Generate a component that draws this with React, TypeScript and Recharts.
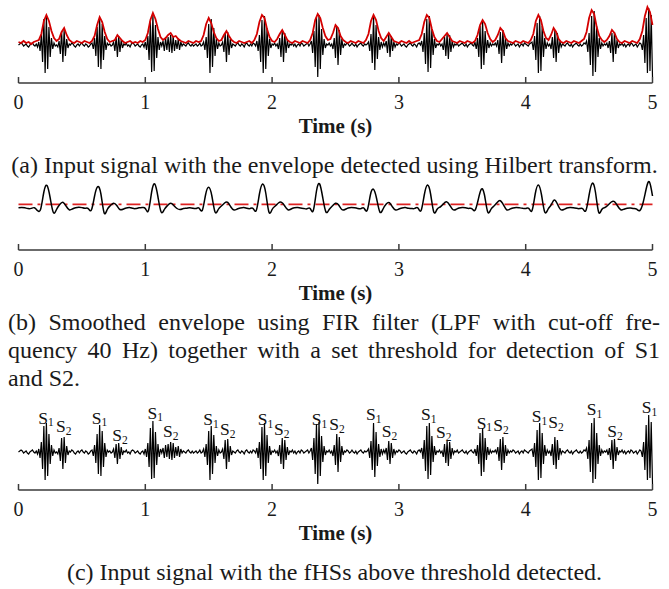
import React from 'react';
import { LineChart, ComposedChart, Line, Scatter, XAxis, YAxis, ReferenceLine } from 'recharts';

// ---- data (arbitrary amplitude units) ----
const inputRate = 100; // samples per second
const inputSignal = [
  0, 1, 2, 1, -1, 0, 1, -1, -2, 0,
  1, 2, 0, -1, 1, -2, 3, -6, 10, -17,
  26, -28, 29, -24, 18, -12, 7, -4, 2, -1,
  0, -2, 4, -9, 14, -17, 15, -11, 6, -3,
  1, 0, 2, 1, -1, -2, 0, 1, -1, 1,
  2, 0, -1, 1, 0, -2, -1, 1, 2, -4,
  7, -11, 18, -22, 27, -24, 21, -15, 9, -5,
  2, 0, 1, -1, 0, 3, -6, 8, -12, 9,
  -7, 5, -3, 1, 0, 2, -1, 0, -2, 1,
  2, 1, -1, 0, 1, -1, -2, 0, 1, -2,
  3, -5, 9, -15, 24, -27, 31, -26, 20, -13,
  8, -5, 3, -1, 4, -6, 7, -5, 8, -7,
  10, -8, 9, -6, 5, -4, 6, -5, 3, -1,
  1, 0, -1, 1, 2, 0, -1, 1, -1, 0,
  1, -1, 0, 2, -1, 0, 3, -5, 8, -13,
  21, -28, 26, -22, 17, -11, 6, -4, 2, -1,
  0, 3, -7, 12, -17, 13, -10, 6, -3, 1,
  0, -1, 1, 2, 0, -1, 1, 0, -2, 1,
  2, 0, -1, 1, -1, 2, 1, -1, 4, -6,
  10, -17, 25, -28, 29, -24, 17, -11, 6, -3,
  1, 0, 2, -1, 1, -4, 7, -12, 14, -17,
  12, -8, 5, -3, 1, 0, 2, -1, 1, -2,
  0, 1, -1, 2, 1, -1, 0, 1, 2, -1,
  1, 4, -8, 14, -22, 28, -32, 30, -24, 16,
  -10, 6, -3, 1, 0, 2, -1, 1, -4, 7,
  -13, 18, -20, 15, -10, 6, -3, 1, 0, 2,
  1, -1, 0, 2, 0, -1, 1, -2, 0, 1,
  2, 0, -1, 1, 0, 1, 3, -6, 11, -18,
  29, -25, 20, -14, 8, -5, 3, -2, 2, -1,
  4, -8, 11, -12, 9, -6, 3, -2, 1, 0,
  2, 1, -1, 0, 1, -1, -2, 0, 1, 2,
  0, -1, 1, 0, -2, 1, 2, 0, 4, -7,
  12, -19, 26, -27, 29, -23, 16, -10, 6, -3,
  1, 0, 2, -1, 1, -5, 8, -11, 11, -14,
  10, -7, 4, -2, 1, 0, 2, -1, 0, 1,
  2, 0, -1, 1, -2, 0, 1, 2, 0, -1,
  3, -4, 7, -12, 19, -24, 24, -20, 14, -8,
  5, -3, 2, -1, 1, 0, 2, -1, 5, -9,
  13, -18, 15, -11, 7, -4, 2, -1, 1, 0,
  2, 1, -1, 0, 1, -2, 0, 1, -1, 2,
  1, 0, -1, 1, 2, 3, -5, 9, -15, 22,
  -28, 29, -26, 19, -12, 7, -4, 2, -1, 1,
  -4, 8, -13, 15, -17, 12, -8, 4, -2, 1,
  0, -1, 1, 2, 0, -1, 1, -2, 0, 1,
  2, 0, -1, 1, -1, 0, 2, 1, 4, -7,
  12, -20, 29, -31, 34, -27, 19, -12, 7, -4,
  2, -1, 1, 0, 2, -3, 4, -8, 12, -17,
  13, -9, 5, -3, 1, 0, 2, -1, 1, -2,
  0, 1, -1, 2, 1, -1, 0, 1, -2, 0,
  2, 1, -5, 10, -18, 27, -28, 37, -26, 30,
  -32,
];

const hilbertRate = 50;
const hilbertEnvelope = [
  3, 2, 4, 2, 3, 1, 3, 4, 5, 11,
  24, 30, 24, 14, 7, 4, 6, 13, 17, 10,
  5, 3, 2, 4, 3, 2, 4, 3, 2, 4,
  9, 20, 28, 23, 13, 6, 3, 4, 5, 10,
  7, 4, 2, 3, 4, 2, 3, 2, 4, 3,
  5, 12, 25, 32, 26, 16, 8, 5, 7, 10,
  12, 8, 9, 6, 4, 3, 2, 4, 3, 2,
  4, 3, 4, 10, 21, 27, 22, 13, 7, 4,
  5, 10, 14, 9, 5, 3, 2, 4, 3, 2,
  3, 4, 2, 5, 11, 23, 30, 27, 16, 8,
  4, 3, 6, 11, 15, 10, 5, 3, 2, 4,
  3, 2, 4, 3, 2, 5, 12, 25, 31, 27,
  17, 9, 5, 6, 12, 20, 17, 9, 5, 3,
  2, 4, 3, 2, 4, 3, 2, 5, 11, 24,
  30, 25, 14, 7, 4, 8, 12, 8, 4, 3,
  2, 4, 3, 2, 4, 2, 3, 4, 5, 11,
  23, 30, 27, 16, 8, 4, 3, 6, 9, 12,
  8, 4, 3, 2, 4, 3, 2, 4, 3, 2,
  4, 10, 20, 25, 21, 12, 6, 3, 5, 10,
  17, 14, 7, 4, 3, 2, 4, 3, 2, 4,
  3, 2, 5, 11, 24, 30, 25, 14, 7, 5,
  10, 17, 13, 6, 3, 2, 4, 3, 2, 4,
  3, 2, 4, 6, 13, 27, 35, 31, 18, 9,
  5, 3, 5, 9, 15, 12, 6, 3, 2, 4,
  3, 2, 4, 3, 2, 6, 14, 29, 38, 33,
  20,
];

const smoothRate = 40;
const smoothedEnvelope = [
  0.3, 0.6, 0.2, -0.6, -0.4, 0.3, -2.6, -1, 16, 22.5,
  10, -4.5, -1.5, 3.5, 5.7, 2, -1.8, -1, 0.3, 0.8,
  0.4, -0.3, -0.6, -2, 12, 21.3, 14, -4.7, -1.5, 2.5,
  4.7, 2.5, -1.5, -1.2, 0, 0.5, -0.3, -0.6, 0.2, 0.4,
  -0.5, -2.5, 16, 24, 11, -4, -1.5, 2.5, 4.7, 2.5,
  -0.5, -1.5, -0.6, -0.2, 0.3, -0.2, -0.5, -0.3, -2.2, 13,
  20.7, 12, -4, -1.5, 2, 5, 5.6, 1, -2, -1,
  0, 0.5, -0.2, -0.6, -0.4, -2.5, 14, 24, 15, -4,
  -1.5, 2, 5, 5.7, 2, -1.8, -1, 0.2, 0.6, 0,
  -0.4, -0.8, -0.5, -2.5, 17, 24, 10, -4, -1.5, 2,
  4.7, 3, -1.5, -1.5, 0, 0.5, 0.2, -0.4, -0.6, -0.2,
  -2.3, 13, 18.7, 9, -4, -1, 4, 5.3, 1, -2,
  -1, 0, 0.4, -0.3, -0.5, -0.4, 0, -2.5, 13, 23,
  14, -4, -1.5, 1, 4, 6.3, 3, -1.5, -1.5, 0,
  0.4, 0.2, -0.4, -0.6, -2.3, 8, 18.7, 13, -3.8, -1.5,
  2, 5.5, 7.3, 3, -1.8, -1.2, 0, 0.5, 0.2, -0.3,
  -0.5, -0.4, -2.5, 14, 23, 13, -4, -1.5, 3, 8,
  4, -1.5, -1.5, 0, 0.5, 0.3, -0.3, -0.6, -0.8, -2.5,
  13, 24.7, 16, -4, -1.5, 0.5, 3, 6, 6.3, 2,
  -1.8, -1.2, -0.3, 0, -0.5, -1.2, -2.5, 5, 19, 26.3,
  12,
];

const detectionThreshold = 3.7;
const timeTicks = [0, 1, 2, 3, 4, 5];

// label anchors (time where the "S" begins, level of its baseline)
const s1LabelTimes = [0.156, 0.577, 1.017, 1.457, 1.886, 2.312, 2.74, 3.174, 3.613, 4.047, 4.481, 4.915];
const s1LabelLevels = [28.4, 28.4, 33.4, 26.7, 26.7, 26.7, 31.7, 31.7, 23.4, 30, 36.7, 38.7];
const s2LabelTimes = [0.296, 0.74, 1.14, 1.589, 2.015, 2.451, 2.864, 3.293, 3.744, 4.178, 4.643];
const s2LabelLevels = [20, 11, 15, 16.7, 16.7, 21.7, 15, 13.7, 20.7, 23.7, 15];

// ---- derived tables ----
const inputData = inputSignal.map((v, i) => ({ t: i / inputRate, v }));
const hilbertData = hilbertEnvelope.map((v, i) => ({ t: i / hilbertRate, v }));
const smoothData = smoothedEnvelope.map((v, i) => ({ t: i / smoothRate, v }));
const labelData = [
  ...s1LabelTimes.map((t, i) => ({ t, v: s1LabelLevels[i], sub: '1' })),
  ...s2LabelTimes.map((t, i) => ({ t, v: s2LabelLevels[i], sub: '2' })),
];

const FONT = '"Liberation Serif", "Times New Roman", Times, serif';
const AXIS_COLOR = '#3a3a3a';
const TEXT_COLOR = '#1a1a1a';

function TimeTick(props: any) {
  const { x, y, payload } = props;
  return (
    <g>
      <line x1={x} y1={y} x2={x} y2={y - 6} stroke={AXIS_COLOR} strokeWidth={1.5} />
      <text x={x} y={y + 26} textAnchor="middle" fontFamily={FONT} fontSize={20} fill={TEXT_COLOR}>
        {payload.value}
      </text>
    </g>
  );
}

function SoundLabel(props: any) {
  const { cx, cy, payload } = props;
  if (cx == null || cy == null) return null;
  return (
    <text x={cx} y={cy} fontFamily={FONT} fontSize={17.5} fill="#111">
      S
      <tspan fontSize={11.5} dy={2.5}>
        {payload.sub}
      </tspan>
    </text>
  );
}

const timeLabel = {
  value: 'Time (s)',
  position: 'insideBottom' as const,
  offset: 10.5,
  fontFamily: FONT,
  fontSize: 21,
  fontWeight: 'bold',
  fill: TEXT_COLOR,
};

const xAxisProps = {
  type: 'number' as const,
  dataKey: 't',
  domain: [0, 5] as [number, number],
  ticks: timeTicks,
  interval: 0 as const,
  tickSize: 0,
  tickMargin: 0,
  tickLine: false,
  tick: TimeTick,
  axisLine: { stroke: AXIS_COLOR, strokeWidth: 1.5 },
  height: 60,
  label: timeLabel,
};

const captionStyle: React.CSSProperties = {
  position: 'absolute',
  fontFamily: FONT,
  fontSize: 24,
  lineHeight: '28px',
  color: TEXT_COLOR,
  whiteSpace: 'nowrap',
};

export default function App() {
  return (
    <div style={{ position: 'absolute', left: 0, top: 0, width: 669, height: 589, background: '#fff', overflow: 'hidden' }}>
      {/* (a) */}
      <div style={{ position: 'absolute', left: 0, top: 0 }}>
        <LineChart width={669} height={143} margin={{ top: 5, right: 16.5, bottom: 0, left: 18.5 }}>
          <XAxis {...xAxisProps} />
          <YAxis hide type="number" domain={[-38, 40]} />
          <Line data={inputData} dataKey="v" type="linear" stroke="#000" strokeWidth={1.2} dot={false} activeDot={false} isAnimationActive={false} />
          <Line data={hilbertData} dataKey="v" type="linear" stroke="#d40000" strokeWidth={1.8} dot={false} activeDot={false} isAnimationActive={false} />
        </LineChart>
      </div>
      <div style={{ ...captionStyle, left: 0, width: 669, top: 151, textAlign: 'center' }}>
        (a) Input signal with the envelope detected using Hilbert transform.
      </div>

      {/* (b) */}
      <div style={{ position: 'absolute', left: 0, top: 178 }}>
        <LineChart width={669} height={132} margin={{ top: 2, right: 16.5, bottom: 0, left: 18.5 }}>
          <XAxis {...xAxisProps} />
          <YAxis hide type="number" domain={[-42, 28]} />
          <ReferenceLine y={detectionThreshold} stroke="#dd2222" strokeWidth={1.8} strokeDasharray="14 5 3 5" />
          <Line data={smoothData} dataKey="v" type="natural" stroke="#000" strokeWidth={1.5} dot={false} activeDot={false} isAnimationActive={false} />
        </LineChart>
      </div>
      <div style={{ ...captionStyle, left: 8, width: 652, top: 308, textAlign: 'justify', textAlignLast: 'justify' }}>
        (b) Smoothed envelope using FIR filter (LPF with cut-off fre-
      </div>
      <div style={{ ...captionStyle, left: 8, width: 652, top: 336, textAlign: 'justify', textAlignLast: 'justify' }}>
        quency 40 Hz) together with a set threshold for detection of S1
      </div>
      <div style={{ ...captionStyle, left: 8, width: 652, top: 364 }}>and S2.</div>

      {/* (c) */}
      <div style={{ position: 'absolute', left: 0, top: 390 }}>
        <ComposedChart width={669} height={160} margin={{ top: 22, right: 16.5, bottom: 0, left: 18.5 }}>
          <XAxis {...xAxisProps} />
          <YAxis hide type="number" domain={[-38, 40]} />
          <Line data={inputData} dataKey="v" type="linear" stroke="#000" strokeWidth={1.2} dot={false} activeDot={false} isAnimationActive={false} />
          <Scatter data={labelData} dataKey="v" shape={SoundLabel} isAnimationActive={false} />
        </ComposedChart>
      </div>
      <div style={{ ...captionStyle, left: 0, width: 669, top: 558, textAlign: 'center' }}>
        (c) Input signal with the fHSs above threshold detected.
      </div>
    </div>
  );
}
